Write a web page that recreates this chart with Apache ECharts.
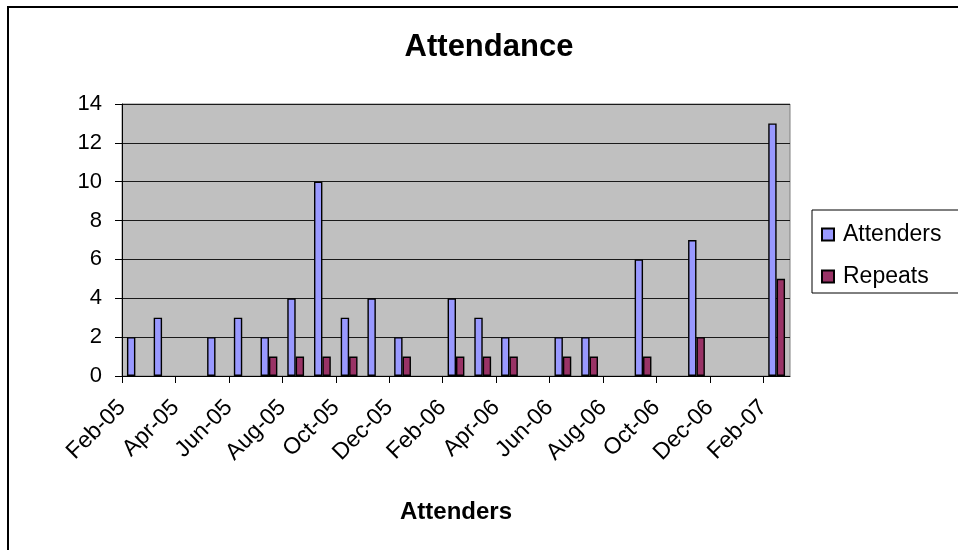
<!DOCTYPE html>
<html>
<head>
<meta charset="utf-8">
<title>Attendance</title>
<script src="https://cdn.jsdelivr.net/npm/echarts@6/dist/echarts.min.js"></script>
<style>
  html, body { margin: 0; padding: 0; background: #fff; }
  #chart { width: 958px; height: 550px; }
</style>
</head>
<body>
<div id="chart"></div>
<script>
// Monthly categories, Feb-05 through Feb-07
const months = ['Feb-05','Mar-05','Apr-05','May-05','Jun-05','Jul-05','Aug-05','Sep-05','Oct-05','Nov-05','Dec-05','Jan-06',
                'Feb-06','Mar-06','Apr-06','May-06','Jun-06','Jul-06','Aug-06','Sep-06','Oct-06','Nov-06','Dec-06','Jan-07','Feb-07'];
// Month boundaries used for the date labels (one more than the months)
const monthStarts = months.concat(['Mar-07']);

const attenders = [2, 3, null, 2, 3, 2, 4, 10, 3, 4, 2, null, 4, 3, 2, null, 2, 2, null, 6, null, 7, null, null, 13];
const repeats   = [null, null, null, null, null, 1, 1, 1, 1, null, 1, null, 1, 1, 1, null, 1, 1, null, 1, null, 2, null, null, 5];

const yTicks = [0, 2, 4, 6, 8, 10, 12, 14];

const FONT = '"Liberation Sans", Arial, sans-serif';

const chart = echarts.init(document.getElementById('chart'), null, { renderer: 'canvas' });

chart.setOption({
  animation: false,
  backgroundColor: '#ffffff',
  textStyle: { fontFamily: FONT, color: '#000' },
  graphic: [
    { // chart frame
      type: 'rect', shape: { x: 8, y: 7, width: 1000, height: 600 },
      style: { fill: 'none', stroke: '#000', lineWidth: 2 }, z: 0, silent: true
    },
    { // legend frame
      type: 'rect', shape: { x: 812, y: 210, width: 160, height: 83 },
      style: { fill: '#fff', stroke: '#000', lineWidth: 1 }, z: 1, silent: true
    },
    {
      type: 'text', x: 489, y: 47, z: 5,
      style: { text: 'Attendance', font: 'bold 31px ' + FONT, fill: '#000', align: 'center', verticalAlign: 'middle' }
    }
  ],
  legend: {
    orient: 'vertical',
    left: 816, top: 218,
    itemWidth: 12, itemHeight: 12, itemGap: 19,
    icon: 'rect',
    textStyle: { fontSize: 23, fontFamily: FONT, color: '#000', padding: [0, 0, 0, 4] },
    z: 6
  },
  grid: {
    left: 122, top: 104, right: 168, bottom: 174,
    show: true, backgroundColor: '#C0C0C0', borderColor: '#808080', borderWidth: 1
  },
  xAxis: [
    {
      type: 'category', data: months, boundaryGap: true,
      axisLine: { show: true, lineStyle: { color: '#000', width: 1 } },
      axisTick: { show: false },
      axisLabel: { show: false },
      splitLine: { show: false },
      name: 'Attenders', nameLocation: 'middle', nameGap: 124,
      nameTextStyle: { fontSize: 24, fontWeight: 'bold', fontFamily: FONT, color: '#000' }
    },
    {
      type: 'category', data: monthStarts, boundaryGap: false, position: 'bottom',
      axisLine: { show: false },
      axisTick: { show: true, interval: 1, length: 7, lineStyle: { color: '#000' } },
      axisLabel: { interval: 1, rotate: 45, margin: 28, fontSize: 23, fontFamily: FONT, color: '#000' },
      splitLine: { show: false }
    }
  ],
  yAxis: {
    type: 'value', min: yTicks[0], max: yTicks[yTicks.length - 1], interval: 2,
    axisLine: { show: true, lineStyle: { color: '#000', width: 1 } },
    axisTick: { show: true, length: 7, lineStyle: { color: '#000' } },
    axisLabel: { margin: 20, fontSize: 22, fontFamily: FONT, color: '#000' },
    splitLine: { show: true, lineStyle: { color: '#1a1a1a', width: 1 } }
  },
  series: [
    {
      name: 'Attenders', type: 'bar', xAxisIndex: 0, data: attenders,
      barWidth: 8.4, barGap: '0%',
      itemStyle: { color: '#9999FF', borderColor: '#000', borderWidth: 1.4 }
    },
    {
      name: 'Repeats', type: 'bar', xAxisIndex: 0, data: repeats,
      barWidth: 8.4, barGap: '0%',
      itemStyle: { color: '#993366', borderColor: '#000', borderWidth: 1.4 }
    }
  ]
});
</script>
</body>
</html>
